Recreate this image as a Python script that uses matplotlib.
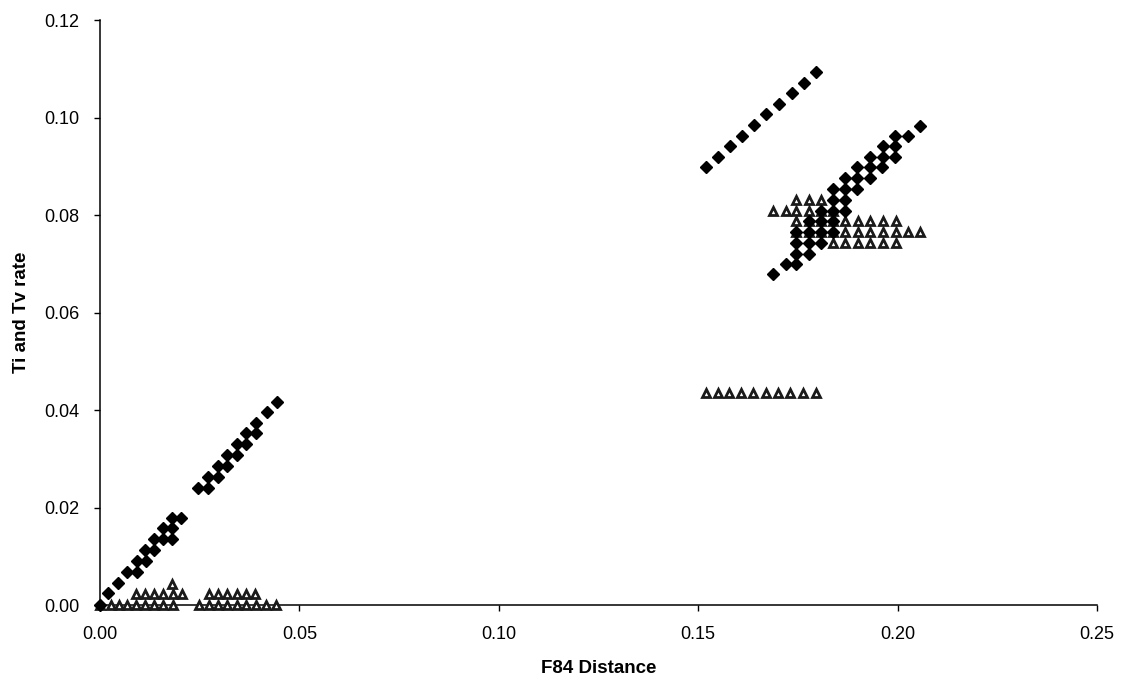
import matplotlib
matplotlib.use("Agg")
import matplotlib.pyplot as plt

plt.rcParams["font.family"] = ["Liberation Sans", "DejaVu Sans"]

# filled diamonds (Ti rate)
ti_x = [0.0, 0.0021, 0.0044, 0.0068, 0.0092, 0.0092, 0.0115, 0.0113, 0.0136,
        0.0136, 0.0159, 0.0181, 0.0159, 0.0181, 0.0181, 0.0204,
        0.0246, 0.0271, 0.0271, 0.0297, 0.0297, 0.0318, 0.0318, 0.0343,
        0.0343, 0.0366, 0.0366, 0.0391, 0.0391, 0.0418, 0.0443,
        0.1519, 0.1550, 0.1579, 0.1609, 0.1640, 0.1671, 0.1703, 0.1734, 0.1765, 0.1796,
        0.1687, 0.1719, 0.1746, 0.1746, 0.1777, 0.1746, 0.1777, 0.1807,
        0.1746, 0.1777, 0.1807, 0.1838, 0.1777, 0.1807, 0.1838,
        0.1807, 0.1838, 0.1868, 0.1838, 0.1868, 0.1838, 0.1868, 0.1899,
        0.1868, 0.1899, 0.1930, 0.1899, 0.1930, 0.1961, 0.1932, 0.1963, 0.1994,
        0.1963, 0.1994, 0.1994, 0.2025, 0.2055]
ti_y = [0.0, 0.0024, 0.0046, 0.0068, 0.0068, 0.0090, 0.0090, 0.0113, 0.0113,
        0.0135, 0.0135, 0.0135, 0.0157, 0.0157, 0.0179, 0.0179,
        0.0241, 0.0241, 0.0263, 0.0263, 0.0285, 0.0285, 0.0308, 0.0308,
        0.0330, 0.0330, 0.0352, 0.0352, 0.0373, 0.0395, 0.0416,
        0.0898, 0.0920, 0.0942, 0.0963, 0.0985, 0.1007, 0.1028, 0.1050, 0.1071, 0.1093,
        0.0678, 0.0699, 0.0699, 0.0721, 0.0721, 0.0743, 0.0743, 0.0743,
        0.0766, 0.0766, 0.0766, 0.0766, 0.0788, 0.0788, 0.0788,
        0.0808, 0.0808, 0.0808, 0.0831, 0.0831, 0.0853, 0.0853, 0.0853,
        0.0875, 0.0875, 0.0875, 0.0898, 0.0898, 0.0898, 0.0920, 0.0920, 0.0920,
        0.0942, 0.0942, 0.0963, 0.0963, 0.0983]

# open triangles (Tv rate)
tv_x = [0.0, 0.0027, 0.0048, 0.0068, 0.0090, 0.0113, 0.0136, 0.0159, 0.0182,
        0.0248, 0.0273, 0.0297, 0.0319, 0.0343, 0.0366, 0.0390, 0.0416, 0.0441,
        0.0090, 0.0113, 0.0136, 0.0159, 0.0182, 0.0205,
        0.0272, 0.0297, 0.0319, 0.0343, 0.0366, 0.0389,
        0.0181,
        0.1520, 0.1550, 0.1577, 0.1608, 0.1637, 0.1669, 0.1700, 0.1729, 0.1763, 0.1796,
        0.1838, 0.1868, 0.1901, 0.1932, 0.1963, 0.1997,
        0.1746, 0.1777, 0.1807, 0.1838, 0.1868, 0.1901, 0.1932, 0.1963, 0.1997, 0.2026, 0.2055,
        0.1746, 0.1777, 0.1807, 0.1838, 0.1868, 0.1901, 0.1932, 0.1963, 0.1997,
        0.1687, 0.1719, 0.1746, 0.1777, 0.1807, 0.1838,
        0.1746, 0.1777, 0.1807]
tv_y = [0.0] * 18 + [0.0022] * 12 + [0.0044] + [0.0434] * 10 \
    + [0.0743] * 6 + [0.0766] * 11 + [0.0788] * 9 + [0.0808] * 6 + [0.0831] * 3

x_ticks = [0.00, 0.05, 0.10, 0.15, 0.20, 0.25]
y_ticks = [0.00, 0.02, 0.04, 0.06, 0.08, 0.10, 0.12]

fig = plt.figure(figsize=(11.28, 6.83), dpi=100)
ax = fig.add_axes([0.0887, 0.1142, 0.8838, 0.8565])

ax.plot(tv_x, tv_y, linestyle="none", marker="^", markersize=5.6,
        markerfacecolor="white", markeredgecolor="#1a1a1a", markeredgewidth=2.0,
        clip_on=False, zorder=3)
ax.plot(ti_x, ti_y, linestyle="none", marker="D", markersize=5.8,
        color="black", clip_on=False, zorder=4)

ax.set_xlim(0, 0.25)
ax.set_ylim(0, 0.12)
ax.set_xticks(x_ticks)
ax.set_yticks(y_ticks)
ax.set_xticklabels([f"{t:.2f}" for t in x_ticks])
ax.set_yticklabels([f"{t:.2f}" for t in y_ticks])
ax.tick_params(direction="out", length=4, width=1, labelsize=13)
ax.tick_params(axis="x", pad=11)
ax.tick_params(axis="y", pad=11)

for s in ["top", "right"]:
    ax.spines[s].set_visible(False)
for s in ["left", "bottom"]:
    ax.spines[s].set_linewidth(1.1)

ax.set_xlabel("F84 Distance", fontsize=13.5, fontweight="bold", labelpad=12)
ax.set_ylabel("Ti and Tv rate", fontsize=13.5, fontweight="bold", labelpad=10)

fig.savefig("out.png", dpi=100)
